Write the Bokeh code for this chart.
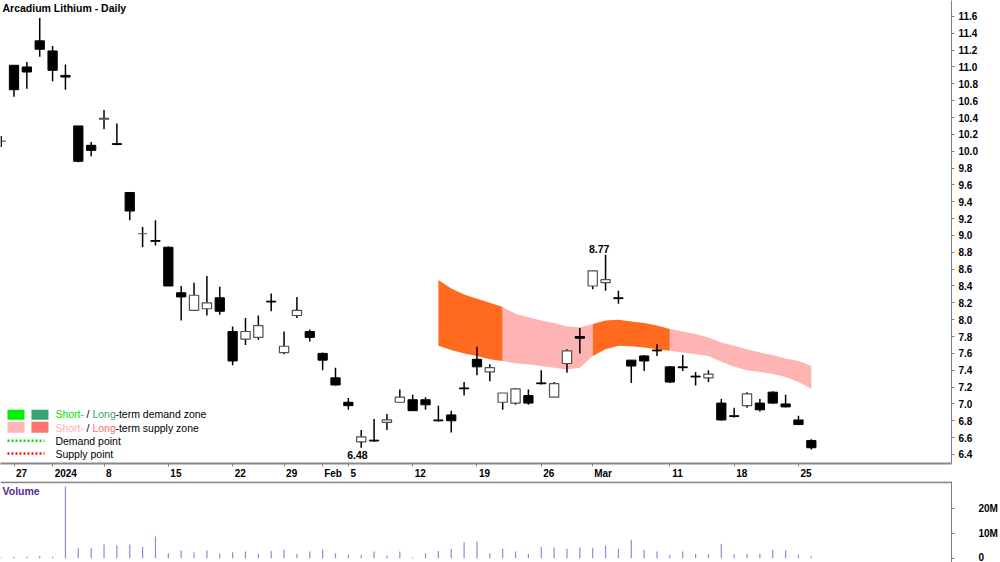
from bokeh.plotting import figure
from bokeh.models import (FixedTicker, PrintfTickFormatter, Span, Label,
                          BoxAnnotation, Range1d, ColumnDataSource)
from bokeh.layouts import column
from bokeh.embed import file_html
from bokeh.resources import INLINE

# ---------------- data ----------------
dates = ["2023-12-22", "2023-12-27", "2023-12-28", "2023-12-29", "2024-01-02",
         "2024-01-03", "2024-01-04", "2024-01-05", "2024-01-08", "2024-01-09",
         "2024-01-10", "2024-01-11", "2024-01-12", "2024-01-15", "2024-01-16",
         "2024-01-17", "2024-01-18", "2024-01-19", "2024-01-22", "2024-01-23",
         "2024-01-24", "2024-01-25", "2024-01-29", "2024-01-30", "2024-01-31",
         "2024-02-01", "2024-02-02", "2024-02-05", "2024-02-06", "2024-02-07",
         "2024-02-08", "2024-02-09", "2024-02-12", "2024-02-13", "2024-02-14",
         "2024-02-15", "2024-02-16", "2024-02-19", "2024-02-20", "2024-02-21",
         "2024-02-22", "2024-02-23", "2024-02-26", "2024-02-27", "2024-02-28",
         "2024-02-29", "2024-03-01", "2024-03-04", "2024-03-05", "2024-03-06",
         "2024-03-07", "2024-03-08", "2024-03-11", "2024-03-12", "2024-03-13",
         "2024-03-14", "2024-03-15", "2024-03-18", "2024-03-19", "2024-03-20",
         "2024-03-21", "2024-03-22", "2024-03-25", "2024-03-26"]

opens = [10.12, 11.02, 11.00, 11.31, 11.19, 10.90, 10.30, 10.07, 10.38, 10.09,
         9.51, 9.02, 8.94, 8.86, 8.32, 8.11, 8.13, 8.26, 7.86, 7.77,
         7.79, 8.22, 7.61, 8.05, 7.86, 7.60, 7.31, 7.02, 6.55, 6.57,
         6.78, 7.02, 7.05, 7.05, 6.81, 6.87, 7.19, 7.53, 7.38, 7.02,
         7.01, 7.10, 7.25, 7.08, 7.48, 7.80, 8.40, 8.44, 8.26, 7.52,
         7.57, 7.64, 7.44, 7.44, 7.33, 7.31, 7.01, 6.86, 6.98, 7.01,
         7.14, 7.00, 6.81, 6.565]
highs = [10.18, 11.02, 11.06, 11.58, 11.25, 11.03, 10.30, 10.11, 10.49, 10.33,
         9.51, 9.10, 9.18, 8.87, 8.40, 8.44, 8.52, 8.39, 7.92, 8.02,
         8.05, 8.31, 7.86, 8.27, 7.885, 7.61, 7.43, 7.07, 6.69, 6.82,
         6.88, 7.17, 7.11, 7.08, 6.98, 6.92, 7.26, 7.68, 7.47, 7.13,
         7.19, 7.17, 7.40, 7.26, 7.65, 7.90, 8.58, 8.77, 8.345, 7.52,
         7.58, 7.71, 7.45, 7.58, 7.38, 7.40, 7.06, 6.955, 7.14, 7.06,
         7.15, 7.11, 6.86, 6.58]
lows = [10.05, 10.645, 10.74, 11.12, 10.83, 10.73, 9.87, 9.94, 10.26, 10.07,
        9.18, 8.86, 8.88, 8.40, 7.99, 8.11, 8.05, 8.06, 7.46, 7.70,
        7.76, 8.10, 7.59, 8.02, 7.74, 7.40, 7.22, 6.93, 6.48, 6.55,
        6.69, 7.02, 6.92, 6.93, 6.79, 6.66, 7.10, 7.34, 7.27, 6.93,
        6.99, 6.99, 7.23, 7.08, 7.37, 7.60, 8.36, 8.345, 8.19, 7.25,
        7.39, 7.57, 7.25, 7.39, 7.22, 7.26, 6.80, 6.84, 6.955, 6.91,
        7.00, 6.96, 6.75, 6.46]
closes = [10.12, 10.73, 10.94, 11.21, 10.96, 10.88, 9.88, 10.01, 10.39, 10.08,
          9.29, 9.02, 8.93, 8.40, 8.27, 8.29, 8.20, 8.10, 7.51, 7.86,
          7.93, 8.21, 7.685, 8.11, 7.79, 7.52, 7.225, 6.98, 6.61, 6.56,
          6.81, 7.08, 6.92, 6.99, 6.80, 6.80, 7.18, 7.44, 7.43, 7.13,
          7.18, 7.01, 7.24, 7.24, 7.63, 7.78, 8.58, 8.475, 8.25, 7.45,
          7.51, 7.63, 7.26, 7.43, 7.32, 7.355, 6.81, 6.85, 7.12, 6.93,
          7.01, 6.965, 6.755, 6.48]
volumes_m = [0.3, 0.6, 0.6, 0.9, 0.6, 29.0, 4.0, 4.0, 5.5, 5.1,
             5.5, 4.5, 8.8, 2.0, 3.1, 2.4, 3.1, 1.9, 2.4, 2.7,
             1.8, 2.9, 3.5, 1.8, 2.7, 3.5, 2.0, 1.4, 1.4, 2.7,
             1.1, 2.7, 0.4, 2.0, 2.9, 3.8, 6.5, 6.8, 2.0, 3.8,
             2.7, 1.8, 4.5, 4.3, 3.8, 4.3, 4.2, 5.1, 3.8, 7.4,
             3.4, 2.7, 1.4, 2.7, 1.8, 1.6, 5.8, 1.6, 1.8, 1.8,
             3.4, 3.1, 1.4, 0.8]

# supply zone band (from 2024-02-14 to 2024-03-26)
zone_dates = dates[34:]
zone_top = [8.47, 8.37, 8.30, 8.25, 8.20, 8.15, 8.07, 8.03, 7.99, 7.96,
            7.92, 7.91, 7.95, 7.99, 8.00, 7.98, 7.96, 7.93, 7.89, 7.86,
            7.83, 7.79, 7.73, 7.69, 7.65, 7.61, 7.58, 7.54, 7.51, 7.45]
zone_bottom = [7.69, 7.64, 7.60, 7.57, 7.53, 7.51, 7.48, 7.47, 7.45, 7.43,
               7.41, 7.43, 7.57, 7.65, 7.69, 7.685, 7.67, 7.65, 7.63, 7.61,
               7.59, 7.57, 7.50, 7.44, 7.40, 7.38, 7.355, 7.32, 7.26, 7.18]
zone_segments = [("2024-02-14", "2024-02-21", "long"),
                 ("2024-02-21", "2024-03-01", "short"),
                 ("2024-03-01", "2024-03-11", "long"),
                 ("2024-03-11", "2024-03-26", "short")]

tick_dates = ["2023-12-27", "2024-01-02", "2024-01-08", "2024-01-15", "2024-01-22",
              "2024-01-29", "2024-02-01", "2024-02-05", "2024-02-12", "2024-02-19",
              "2024-02-26", "2024-03-01", "2024-03-11", "2024-03-18", "2024-03-25"]
tick_labels = ["27", "2024", "8", "15", "22", "29", "Feb", "5", "12", "19",
               "26", "Mar", "11", "18", "25"]
price_ticks = [6.4, 6.6, 6.8, 7.0, 7.2, 7.4, 7.6, 7.8, 8.0, 8.2, 8.4, 8.6, 8.8,
               9.0, 9.2, 9.4, 9.6, 9.8, 10.0, 10.2, 10.4, 10.6, 10.8, 11.0,
               11.2, 11.4, 11.6]
volume_ticks = [0, 10, 20]
volume_tick_labels = ["0", "10M", "20M"]

high_label_date = "2024-03-04"
low_label_date = "2024-02-06"

# ---------------- layout ----------------
W = 1000
BORDER_R = 48
H_PRICE = 481
H_VOL = 81
X0, X1 = -0.05, 73.9
Y0, Y1 = 6.293, 11.789
V0, V1 = -1.74, 31.05
FONT = "Liberation Sans"

idx = list(range(len(dates)))
pos = {d: i for i, d in enumerate(dates)}


def rx(px):  # frame pixel -> x data
    return X0 + (X1 - X0) * px / 952.0


def ry(py):  # frame pixel -> price
    return Y1 - (Y1 - Y0) * py / 466.0


def rv(py):  # page pixel -> volume (millions)
    return V1 - (V1 - V0) * (py - 481.0) / 81.0


p = figure(width=W, height=H_PRICE, x_range=Range1d(X0, X1), y_range=Range1d(Y0, Y1),
           y_axis_location="right", output_backend="svg", toolbar_location=None,
           min_border_left=0, min_border_right=BORDER_R, min_border_top=0,
           min_border_bottom=0)
p.outline_line_color = None
p.grid.visible = False
p.background_fill_color = "white"
p.border_fill_color = "white"

# supply zones
zone_colors = {"long": "#FF6A1F", "short": "#FFB4B4"}
zx = [pos[d] for d in zone_dates]
for d0, d1, kind in zone_segments:
    a = zone_dates.index(d0)
    b = zone_dates.index(d1) + 1
    p.varea(x=zx[a:b], y1=zone_bottom[a:b], y2=zone_top[a:b],
            fill_color=zone_colors[kind], fill_alpha=1.0)

# candles
p.segment(x0=idx, y0=lows, x1=idx, y1=highs, line_color="black", line_width=1.5)
up = [i for i in idx if closes[i] >= opens[i]]
dn = [i for i in idx if closes[i] < opens[i]]
src_up = ColumnDataSource(dict(x=up, top=[closes[i] for i in up], bottom=[opens[i] for i in up]))
src_dn = ColumnDataSource(dict(x=dn, top=[opens[i] for i in dn], bottom=[closes[i] for i in dn]))
p.vbar(x="x", top="top", bottom="bottom", width=0.72, source=src_dn,
       fill_color="black", line_color="black", line_width=1)
p.vbar(x="x", top="top", bottom="bottom", width=0.72, source=src_up,
       fill_color="white", line_color="#505050", line_width=1.2)

# high / low annotations
hi = pos[high_label_date]
lo = pos[low_label_date]
p.add_layout(Label(x=hi - 0.5, y=highs[hi], text=f"{highs[hi]:.2f}", text_align="center",
                   text_baseline="bottom", y_offset=2, text_font=FONT,
                   text_font_size="10.5px", text_font_style="bold", text_color="black"))
p.add_layout(Label(x=lo - 0.3, y=lows[lo], text=f"{lows[lo]:.2f}", text_align="center",
                   text_baseline="top", y_offset=-3, text_font=FONT,
                   text_font_size="10.5px", text_font_style="bold", text_color="black"))

# title
p.add_layout(Label(x=rx(2), y=ry(2), text="Arcadium Lithium - Daily", text_baseline="top",
                   text_font=FONT, text_font_size="10.5px", text_font_style="bold",
                   text_color="black"))

# legend
for (l, r, t, b, c) in [(7, 24, 412, 422, "#00F000"), (31, 48, 412, 422, "#3AA46E"),
                        (7, 24, 424, 435, "#FFB6B6"), (31, 48, 424, 435, "#FF7272")]:
    p.add_layout(BoxAnnotation(left=rx(l), right=rx(r), top=ry(t), bottom=ry(b),
                               fill_color=c, fill_alpha=1.0, line_color=None))


def legend_text(px, py, text, color):
    p.add_layout(Label(x=rx(px), y=ry(py), text=text, text_baseline="middle",
                       text_font=FONT, text_font_size="10.5px", text_color=color))


legend_text(55, 416, "Short-", "#00E000")
legend_text(86, 416, "/", "black")
legend_text(92, 416, "Long", "#3AA46E")
legend_text(115, 416, "-term demand zone", "black")
legend_text(55, 430, "Short-", "#FFB0B0")
legend_text(86, 430, "/", "black")
legend_text(92, 430, "Long", "#FF6B6B")
legend_text(115, 430, "-term supply zone", "black")
legend_text(55, 443, "Demand point", "black")
legend_text(55, 456, "Supply point", "black")
p.segment(x0=[rx(7)], y0=[ry(443)], x1=[rx(44)], y1=[ry(443)], line_color="#00DD00",
          line_width=2.5, line_dash="2 2")
p.segment(x0=[rx(7)], y0=[ry(456)], x1=[rx(44)], y1=[ry(456)], line_color="#FF1010",
          line_width=2.5, line_dash="2 2")

# axes
ppd = (W - BORDER_R) / (X1 - X0)
tick_pos = [float(pos[d]) for d in tick_dates]
label_pos = [t + (2 + len(s) * 5.6 / 2) / ppd for t, s in zip(tick_pos, tick_labels)]
p.xaxis.ticker = FixedTicker(ticks=label_pos, minor_ticks=tick_pos)
p.xaxis.major_label_overrides = {lp: s for lp, s in zip(label_pos, tick_labels)}
p.xaxis.major_tick_line_color = None
p.xaxis.major_tick_out = 0
p.xaxis.major_tick_in = 0
p.xaxis.minor_tick_out = 3
p.xaxis.minor_tick_in = 0
p.xaxis.minor_tick_line_color = "#808080"
p.xaxis.axis_line_color = "#8a8a8a"
p.xaxis.axis_line_width = 2
p.xaxis.major_label_standoff = 1
p.xaxis.major_label_text_font = FONT
p.xaxis.major_label_text_font_size = "10px"
p.xaxis.major_label_text_font_style = "bold"
p.xaxis.major_label_text_color = "black"

p.yaxis.ticker = FixedTicker(ticks=price_ticks)
p.yaxis.formatter = PrintfTickFormatter(format="%.1f")
p.yaxis.axis_line_color = "#808080"
p.yaxis.major_tick_out = 3
p.yaxis.major_tick_in = 0
p.yaxis.major_tick_line_color = "#808080"
p.yaxis.minor_tick_line_color = None
p.yaxis.major_label_standoff = 4
p.yaxis.major_label_text_font = FONT
p.yaxis.major_label_text_font_size = "10px"
p.yaxis.major_label_text_font_style = "bold"
p.yaxis.major_label_text_color = "black"

# volume panel
pv = figure(width=W, height=H_VOL, x_range=p.x_range, y_range=Range1d(V0, V1),
            y_axis_location="right", x_axis_location=None, output_backend="svg",
            toolbar_location=None, min_border_left=0, min_border_right=BORDER_R,
            min_border_top=0, min_border_bottom=0)
pv.outline_line_color = None
pv.grid.visible = False
pv.segment(x0=idx, y0=[0] * len(idx), x1=idx, y1=volumes_m, line_color="#8C8CD8",
           line_width=1.2)
pv.add_layout(Span(location=V1 - 0.3, dimension="width", line_color="#8a8a8a",
                   line_width=2))
pv.add_layout(Label(x=rx(2), y=rv(484), text="Volume", text_baseline="top",
                    text_font=FONT, text_font_size="10.5px", text_font_style="bold",
                    text_color="#5A2A90"))
pv.yaxis.ticker = FixedTicker(ticks=volume_ticks)
pv.yaxis.major_label_overrides = {t: s for t, s in zip(volume_ticks, volume_tick_labels)}
pv.yaxis.axis_line_color = "#808080"
pv.yaxis.major_tick_out = 3
pv.yaxis.major_tick_in = 0
pv.yaxis.major_tick_line_color = "#808080"
pv.yaxis.minor_tick_line_color = None
pv.yaxis.major_label_standoff = 24
pv.yaxis.major_label_text_font = FONT
pv.yaxis.major_label_text_font_size = "10px"
pv.yaxis.major_label_text_font_style = "bold"
pv.yaxis.major_label_text_color = "black"

layout = column(p, pv, spacing=0)
open("out.html", "w").write(file_html(layout, INLINE))
